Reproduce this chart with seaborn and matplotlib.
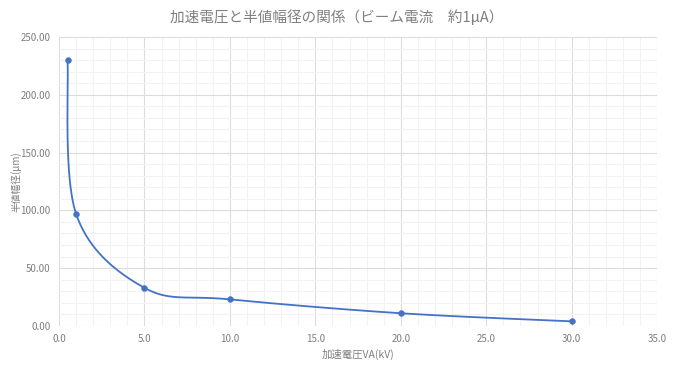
import numpy as np
import pandas as pd
import matplotlib
matplotlib.use('Agg')
import matplotlib.pyplot as plt
import seaborn as sns
from matplotlib.ticker import MultipleLocator, FormatStrFormatter

# data
voltage_kv = [0.5, 1.0, 5.0, 10.0, 20.0, 30.0]
half_width_um = [230.0, 97.0, 33.0, 23.0, 11.0, 4.0]

title = '加速電圧と半値幅径の関係（ビーム電流　約1μA）'
xlabel = '加速電圧VA(kV)'
ylabel = '半値幅径(μm)'

sns.set_theme(style='white')
plt.rcParams['font.family'] = ['Noto Sans CJK JP', 'DejaVu Sans']

line_color = '#4472C4'
text_color = '#7F7F7F'


def smooth_curve(xs, ys, n=60):
    # Excel-style smoothed line (Catmull-Rom through the points)
    pts = np.column_stack([xs, ys])
    out = []
    for i in range(len(pts) - 1):
        p0 = pts[max(i - 1, 0)]
        p1 = pts[i]
        p2 = pts[i + 1]
        p3 = pts[min(i + 2, len(pts) - 1)]
        c1 = p1 + (p2 - p0) / 6
        c2 = p2 - (p3 - p1) / 6
        t = np.linspace(0, 1, n)[:, None]
        seg = ((1 - t) ** 3) * p1 + 3 * ((1 - t) ** 2) * t * c1 + 3 * (1 - t) * t ** 2 * c2 + t ** 3 * p2
        out.append(seg if i == 0 else seg[1:])
    seg = np.vstack(out)
    return pd.DataFrame({'x': seg[:, 0], 'y': seg[:, 1]})


df = pd.DataFrame({'kv': voltage_kv, 'um': half_width_um})
curve = smooth_curve(df['kv'].values, df['um'].values)

fig = plt.figure(figsize=(6.74, 3.70), dpi=100)
ax = fig.add_axes([0.0875, 0.119, 0.8875, 0.781])

sns.lineplot(data=curve, x='x', y='y', sort=False, color=line_color, linewidth=1.3, ax=ax, zorder=3)
sns.scatterplot(data=df, x='kv', y='um', color=line_color, s=18, edgecolor=line_color, ax=ax, zorder=4)

ax.set_xlim(0, 35)
ax.set_ylim(0, 250)
ax.xaxis.set_major_locator(MultipleLocator(5))
ax.xaxis.set_minor_locator(MultipleLocator(1))
ax.yaxis.set_major_locator(MultipleLocator(50))
ax.yaxis.set_minor_locator(MultipleLocator(10))
ax.xaxis.set_major_formatter(FormatStrFormatter('%.1f'))
ax.yaxis.set_major_formatter(FormatStrFormatter('%.2f'))

ax.grid(which='major', color='#DCDCDC', linewidth=0.8)
ax.grid(which='minor', color='#F2F2F2', linewidth=0.8)
ax.set_axisbelow(True)
for s in ax.spines.values():
    s.set_visible(False)
ax.tick_params(which='both', length=0, labelsize=7, labelcolor=text_color, pad=6)

ax.set_xlabel(xlabel, fontsize=7.5, color=text_color, labelpad=3)
ax.set_ylabel(ylabel, fontsize=7, color=text_color, labelpad=6)
ax.yaxis.set_label_coords(-0.063, 0.5)
fig.suptitle(title, fontsize=10.5, color=text_color, y=0.975)

fig.savefig('out.png', dpi=100)
